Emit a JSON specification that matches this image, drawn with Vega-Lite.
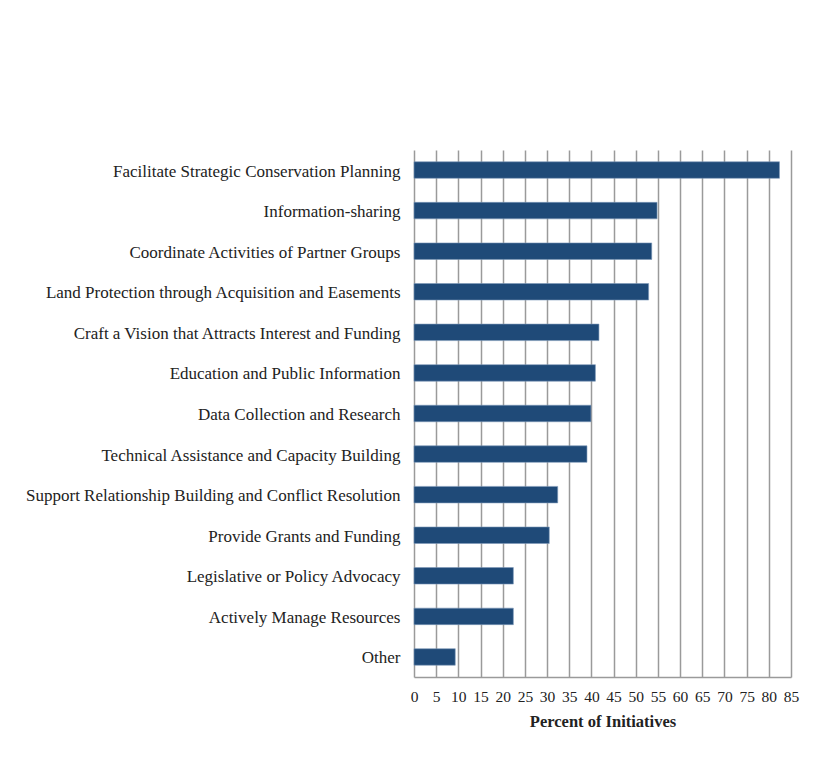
{
  "$schema": "https://vega.github.io/schema/vega-lite/v6.json",
  "width": 377,
  "height": 527,
  "autosize": {"type": "none"},
  "padding": {"left": 414, "top": 150, "right": 24, "bottom": 104},
  "background": "white",
  "data": {
    "values": [
      {"activity": "Facilitate Strategic Conservation Planning", "pct": 82.4},
      {"activity": "Information-sharing", "pct": 54.8},
      {"activity": "Coordinate Activities of Partner Groups", "pct": 53.6},
      {"activity": "Land Protection through Acquisition and Easements", "pct": 52.9},
      {"activity": "Craft a Vision that Attracts Interest and Funding", "pct": 41.7},
      {"activity": "Education and Public Information", "pct": 40.9},
      {"activity": "Data Collection and Research", "pct": 39.9},
      {"activity": "Technical  Assistance and Capacity Building", "pct": 39.0},
      {"activity": "Support Relationship Building and Conflict Resolution", "pct": 32.4},
      {"activity": "Provide Grants and Funding", "pct": 30.5},
      {"activity": "Legislative or Policy Advocacy", "pct": 22.4},
      {"activity": "Actively Manage Resources", "pct": 22.4},
      {"activity": "Other", "pct": 9.3}
    ]
  },
  "mark": {"type": "bar", "color": "#1f4a78", "stroke": "#7d98b8", "strokeWidth": 0.6},
  "encoding": {
    "y": {
      "field": "activity",
      "type": "nominal",
      "sort": null,
      "scale": {"paddingInner": 0.593, "paddingOuter": 0.29},
      "axis": {
        "title": null,
        "domain": false,
        "ticks": false,
        "grid": false,
        "labelFont": "Liberation Serif",
        "labelFontSize": 17,
        "labelColor": "#222222",
        "labelPadding": 14,
        "labelOffset": 1.5,
        "labelLimit": 500
      }
    },
    "x": {
      "field": "pct",
      "type": "quantitative",
      "scale": {"domain": [0, 85], "nice": false},
      "axis": {
        "title": "Percent of Initiatives",
        "titleFont": "Liberation Serif",
        "titleFontSize": 16.5,
        "titleFontWeight": "bold",
        "titleColor": "#222222",
        "titlePadding": 9,
        "values": [0,5,10,15,20,25,30,35,40,45,50,55,60,65,70,75,80,85],
        "labelFont": "Liberation Serif",
        "labelFontSize": 15.5,
        "labelColor": "#222222",
        "labelPadding": 12,
        "ticks": false,
        "grid": true,
        "gridColor": "#9a9a9a",
        "gridWidth": 1.5,
        "gridOpacity": 1,
        "domainColor": "#9a9a9a",
        "domainWidth": 1.5,
        "labelFlush": false,
        "labelOverlap": false
      }
    }
  },
  "config": {"view": {"stroke": null}}
}
